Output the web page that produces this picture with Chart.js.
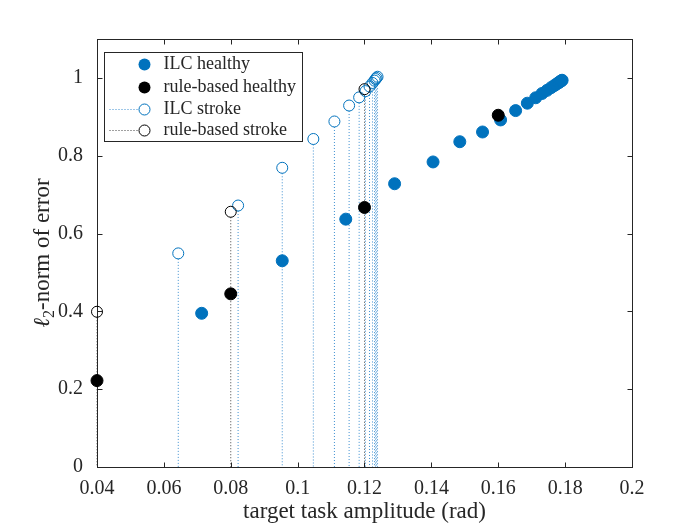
<!DOCTYPE html>
<html>
<head>
<meta charset="utf-8">
<script src="https://cdn.jsdelivr.net/npm/chart.js@4.4.1/dist/chart.umd.min.js"></script>
<style>
html,body{margin:0;padding:0;background:#fff;}
#wrap{width:700px;height:525px;}
</style>
</head>
<body>
<div id="wrap"><canvas id="myCanvas" width="700" height="525"></canvas></div>
<script>
// tick labels
var xTicks=[0.04,0.06,0.08,0.1,0.12,0.14,0.16,0.18,0.2];
var yTicks=[0,0.2,0.4,0.6,0.8,1];

// series
var seriesNames=['ILC healthy','rule-based healthy','ILC stroke','rule-based stroke'];
var ilcHealthyX=[0.0713,0.0954,0.1144,0.129,0.1405,0.1485,0.1553,0.1607,0.1652,0.1687,0.1712,0.1731,0.1746,0.1758,0.1767,0.1774,0.1779,0.1783,0.1786,0.1789,0.1791];
var ilcHealthyY=[0.395,0.530,0.637,0.728,0.784,0.836,0.861,0.892,0.916,0.935,0.949,0.960,0.968,0.975,0.980,0.984,0.987,0.989,0.991,0.993,0.994];
var ruleHealthyX=[0.04,0.08,0.12,0.16];
var ruleHealthyY=[0.222,0.445,0.667,0.904];
var ilcStrokeX=[0.0643,0.0822,0.0954,0.1047,0.111,0.1154,0.1184,0.1203,0.1215,0.1224,0.123,0.1233,0.1236,0.1239];
var ilcStrokeY=[0.549,0.672,0.769,0.843,0.888,0.929,0.950,0.966,0.978,0.987,0.993,0.997,1.000,1.003];
var ruleStrokeX=[0.04,0.08,0.12];
var ruleStrokeY=[0.399,0.656,0.971];

var blue='#0072BD';
var axisCol='#262626';

function toPts(xs,ys){
	var p=[];
	for(var i=0;i<xs.length;i++){p.push({x:xs[i],y:ys[i]});}
	return p;
}

// box + inward ticks + dotted stems, under the markers
var framePlugin={
	id:'frame',
	beforeDatasetsDraw:function(chart){
		var ctx=chart.ctx, a=chart.chartArea, xs=chart.scales.x, ys=chart.scales.y;
		var y0=ys.getPixelForValue(0);
		chart.data.datasets.forEach(function(ds,i){
			if(!ds.stem) return;
			var meta=chart.getDatasetMeta(i);
			ctx.save();
			ctx.strokeStyle=ds.stem;
			ctx.lineWidth=1;
			ctx.setLineDash([1,2]);
			meta.data.forEach(function(pt){
				ctx.beginPath();
				ctx.moveTo(pt.x,pt.y+ds.pointRadius);
				ctx.lineTo(pt.x,y0);
				ctx.stroke();
			});
			ctx.restore();
		});
		ctx.save();
		ctx.strokeStyle=axisCol;
		ctx.lineWidth=1;
		var L=Math.round(a.left)+0.5, R=Math.round(a.right)+0.5, T=Math.round(a.top)+0.5, B=Math.round(a.bottom)+0.5;
		ctx.strokeRect(L,T,R-L,B-T);
		ctx.beginPath();
		xTicks.forEach(function(v){
			var px=Math.round(xs.getPixelForValue(v))+0.5;
			ctx.moveTo(px,B);ctx.lineTo(px,B-5);
			ctx.moveTo(px,T);ctx.lineTo(px,T+5);
		});
		yTicks.forEach(function(v){
			var py=Math.round(ys.getPixelForValue(v))+0.5;
			ctx.moveTo(L,py);ctx.lineTo(L+5,py);
			ctx.moveTo(R,py);ctx.lineTo(R-5,py);
		});
		ctx.stroke();
		ctx.restore();
	},
	afterDraw:function(chart){
		var ctx=chart.ctx, a=chart.chartArea;
		ctx.save();
		ctx.fillStyle=axisCol;
		// x title
		ctx.font='23px "Liberation Serif"';
		ctx.textAlign='center';
		ctx.textBaseline='middle';
		ctx.fillText('target task amplitude (rad)',(a.left+a.right)/2,512);
		// y title with subscript
		ctx.translate(42,(a.top+a.bottom)/2);
		ctx.rotate(-Math.PI/2);
		ctx.textAlign='left';
		ctx.textBaseline='alphabetic';
		var f1='italic 23px "Liberation Serif"', f2='16px "Liberation Serif"', f3='23px "Liberation Serif"';
		var rest='-norm of error';
		ctx.font=f1; var w1=ctx.measureText('\u2113').width;
		ctx.font=f2; var w2=ctx.measureText('2').width;
		ctx.font=f3; var w3=ctx.measureText(rest).width;
		var x0=-(w1+w2+w3)/2, base=7;
		ctx.font=f1; ctx.fillText('\u2113',x0,base);
		ctx.font=f2; ctx.fillText('2',x0+w1,base+5);
		ctx.font=f3; ctx.fillText(rest,x0+w1+w2,base);
		ctx.restore();

		// legend
		ctx.save();
		var bx=a.left+7.5, by=a.top+13.5, bw=198, bh=89;
		ctx.fillStyle='#fff';
		ctx.fillRect(bx,by,bw,bh);
		ctx.strokeStyle=axisCol;
		ctx.lineWidth=1;
		ctx.strokeRect(bx,by,bw,bh);
		var rows=[by+12,by+35,by+57,by+78];
		var cols=[blue,'#000',blue,'#000'];
		ctx.font='18px "Liberation Serif"';
		ctx.textBaseline='middle';
		ctx.textAlign='left';
		for(var i=0;i<4;i++){
			var cy=rows[i], cx=bx+40;
			if(i>=2){
				ctx.save();
				ctx.strokeStyle=(i==2)?'#3d8fd0':'#404040';
				ctx.setLineDash([1,2]);
				ctx.beginPath();ctx.moveTo(bx+5,cy);ctx.lineTo(cx-5,cy);ctx.stroke();
				ctx.restore();
				ctx.beginPath();ctx.arc(cx,cy,5.5,0,Math.PI*2);
				ctx.strokeStyle=cols[i];ctx.stroke();
			}else{
				ctx.beginPath();ctx.arc(cx,cy,6,0,Math.PI*2);
				ctx.fillStyle=cols[i];ctx.fill();
			}
			ctx.fillStyle=axisCol;
			ctx.fillText(seriesNames[i],bx+59,cy);
		}
		ctx.restore();
	}
};

var ctx=document.getElementById('myCanvas');
var scatterChart=new Chart(ctx,{
	type:'scatter',
	data:{
		datasets:[
		{
			label:seriesNames[0],
			data:toPts(ilcHealthyX,ilcHealthyY),
			backgroundColor:blue,
			borderColor:blue,
			borderWidth:1,
			pointRadius:6,
			order:4,
			clip:false
		},
		{
			label:seriesNames[1],
			data:toPts(ruleHealthyX,ruleHealthyY),
			backgroundColor:'#000',
			borderColor:'#000',
			borderWidth:1,
			pointRadius:6,
			order:3,
			clip:false
		},
		{
			label:seriesNames[2],
			data:toPts(ilcStrokeX,ilcStrokeY),
			backgroundColor:'rgba(0,0,0,0)',
			borderColor:blue,
			borderWidth:1,
			pointRadius:5.5,
			stem:'#3d8fd0',
			order:2,
			clip:false
		},
		{
			label:seriesNames[3],
			data:toPts(ruleStrokeX,ruleStrokeY),
			backgroundColor:'rgba(0,0,0,0)',
			borderColor:'#000',
			borderWidth:1,
			pointRadius:5.5,
			stem:'#404040',
			order:1,
			clip:false
		}
		]
	},
	options:{
		responsive:false,
		animation:false,
		devicePixelRatio:1,
		layout:{padding:{top:39,right:68,left:0,bottom:0}},
		plugins:{legend:{display:false},tooltip:{enabled:false}},
		scales:{
			x:{
				type:'linear',
				min:0.04,max:0.2,
				afterBuildTicks:function(s){s.ticks=xTicks.map(function(v){return {value:v};});},
				afterFit:function(s){s.height=58;},
				grid:{display:true,drawOnChartArea:false,drawTicks:false},
				border:{display:false},
				ticks:{
					color:axisCol,padding:10,maxRotation:0,autoSkip:false,
					font:{family:'"Liberation Serif"',size:20},
					callback:function(v){return String(v);}
				}
			},
			y:{
				type:'linear',
				min:0,max:1.1,
				afterBuildTicks:function(s){s.ticks=yTicks.map(function(v){return {value:v};});},
				afterFit:function(s){s.width=97;},
				grid:{display:true,drawOnChartArea:false,drawTicks:false},
				border:{display:false},
				ticks:{
					color:axisCol,padding:14,autoSkip:false,
					font:{family:'"Liberation Serif"',size:20},
					callback:function(v){return String(v);}
				}
			}
		}
	},
	plugins:[framePlugin]
});
</script>
</body>
</html>
